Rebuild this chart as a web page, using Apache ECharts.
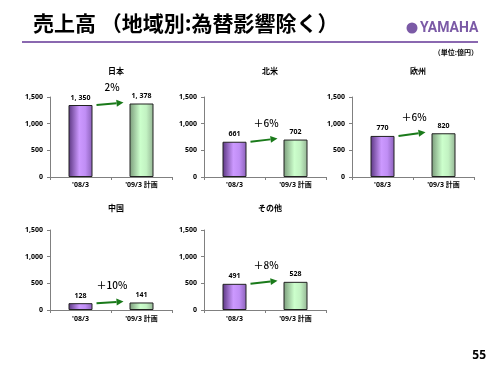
<!DOCTYPE html>
<html><head><meta charset="utf-8">
<script src="https://cdn.jsdelivr.net/npm/echarts@6/dist/echarts.min.js"></script>
<style>html,body{margin:0;padding:0;background:#fff}#c{width:500px;height:375px}</style>
</head><body><div id="c"></div>
<script>
const categories = ["'08/3", "'09/3 計画"];
const regions = ["日本", "北米", "欧州", "中国", "その他"];
const prevValues = [1350, 661, 770, 128, 491];
const planValues = [1378, 702, 820, 141, 528];
const growthLabels = ["2%", "＋6%", "＋6%", "＋10%", "＋8%"];
const valueLabels = [["1, 350", "1, 378"], ["661", "702"], ["770", "820"], ["128", "141"], ["491", "528"]];
const yTicks = [0, 500, 1000, 1500];

const FONT = '"Noto Sans CJK JP", "Noto Sans", sans-serif';
const FONT_LAT = '"Noto Sans", "Noto Sans CJK JP", sans-serif';
const gridPos = [
  {left: 50, top: 97}, {left: 204, top: 97}, {left: 352, top: 97},
  {left: 50, top: 230}, {left: 204, top: 230}
];
const GW = 122, GH = 80;

const purpleGrad = new echarts.graphic.LinearGradient(0, 0, 1, 0, [
  {offset: 0, color: '#5a3680'}, {offset: 0.45, color: '#cc99ff'}, {offset: 0.7, color: '#c08ef5'}, {offset: 1, color: '#8a60b8'}
]);
const greenGrad = new echarts.graphic.LinearGradient(0, 0, 1, 0, [
  {offset: 0, color: '#7a9a7a'}, {offset: 0.45, color: '#ccffcc'}, {offset: 0.7, color: '#c2f2c2'}, {offset: 1, color: '#94b494'}
]);

const chart = echarts.init(document.getElementById('c'), null, {renderer: 'canvas'});

const grids = [], xAxes = [], yAxes = [], series = [], titles = [];
regions.forEach((r, i) => {
  const g = gridPos[i];
  grids.push({left: g.left, top: g.top, width: GW, height: GH});
  titles.push({
    text: r, left: g.left + GW / 2, top: g.top - (i < 3 ? 35 : 31), textAlign: 'center',
    textStyle: {fontFamily: FONT, fontSize: 8, fontWeight: 'bold', color: '#000'}
  });
  xAxes.push({
    type: 'category', gridIndex: i, data: categories,
    axisLine: {lineStyle: {color: '#808080', width: 1}},
    axisTick: {show: true, length: 3, lineStyle: {color: '#808080'}},
    axisLabel: {fontFamily: FONT_LAT, fontSize: 7, fontWeight: 'bold', color: '#000', margin: 5}
  });
  yAxes.push({
    type: 'value', gridIndex: i, min: 0, max: 1500, interval: 500,
    axisLine: {show: true, lineStyle: {color: '#808080', width: 1}},
    axisTick: {show: true, length: 3, lineStyle: {color: '#808080'}},
    splitLine: {show: false},
    axisLabel: {fontFamily: FONT_LAT, fontSize: 7, fontWeight: 'bold', color: '#000', margin: 7,
      formatter: v => v.toLocaleString('en-US')}
  });
  series.push({
    type: 'bar', xAxisIndex: i, yAxisIndex: i, barWidth: 24,
    data: [
      {value: prevValues[i], itemStyle: {color: purpleGrad}},
      {value: planValues[i], itemStyle: {color: greenGrad}}
    ],
    itemStyle: {borderColor: '#222', borderWidth: 1},
    label: {show: true, position: 'top', distance: 4, fontFamily: FONT_LAT, fontSize: 7, fontWeight: 'bold', color: '#000',
      formatter: p => valueLabels[i][p.dataIndex]},
    silent: true, animation: false
  });
});

const baseGraphics = [
  {type: 'text', left: 33, top: 13, style: {text: '売上高 （地域別:為替影響除く）', fontFamily: FONT, fontSize: 21, fontWeight: 'bold', fill: '#000'}},
  {type: 'line', shape: {x1: 22, y1: 42, x2: 478, y2: 42}, style: {stroke: '#8a68b0', lineWidth: 2}},
  {type: 'circle', shape: {cx: 412, cy: 28, r: 5.5}, style: {fill: '#7b5aa6'}},
  {type: 'text', left: 420, top: 21, style: {text: 'YAMAHA', fontFamily: '"Liberation Sans Narrow", "Roboto", sans-serif', fontSize: 14, fontWeight: 'bold', fill: '#7b5aa6'}},
  {type: 'text', right: 22, top: 49, style: {text: '（単位:億円）', fontFamily: FONT, fontSize: 7, fontWeight: 'bold', fill: '#000'}},
  {type: 'text', right: 14, top: 350, style: {text: '55', fontFamily: FONT_LAT, fontSize: 12, fontWeight: 'bold', fill: '#000'}}
];

chart.setOption({
  animation: false,
  title: titles, grid: grids, xAxis: xAxes, yAxis: yAxes, series: series,
  graphic: baseGraphics
});

// arrows and growth labels positioned from the axes' scales
const extra = [];
regions.forEach((r, i) => {
  const p0 = chart.convertToPixel({xAxisIndex: i, yAxisIndex: i}, [0, prevValues[i]]);
  const p1 = chart.convertToPixel({xAxisIndex: i, yAxisIndex: i}, [1, planValues[i]]);
  const x1 = p0[0] + 16, y1 = p0[1];
  const x2 = p1[0] - 18, y2 = p1[1] - 1;
  const ang = Math.atan2(y2 - y1, x2 - x1);
  const hl = 7, hw = 3.5;
  const bx = x2 - hl * Math.cos(ang), by = y2 - hl * Math.sin(ang);
  extra.push({type: 'line', shape: {x1: x1, y1: y1, x2: bx, y2: by}, style: {stroke: '#1a7a1a', lineWidth: 2}});
  extra.push({type: 'polygon', shape: {points: [
    [x2, y2],
    [bx + hw * Math.sin(ang), by - hw * Math.cos(ang)],
    [bx - hw * Math.sin(ang), by + hw * Math.cos(ang)]
  ]}, style: {fill: '#1a7a1a'}});
  extra.push({type: 'text', x: (x1 + x2) / 2 + 2, y: (y1 + y2) / 2 - 17,
    style: {text: growthLabels[i], fontFamily: FONT, fontSize: 10, fontWeight: 500, fill: '#000', align: 'center', verticalAlign: 'middle'}});
});
chart.setOption({graphic: baseGraphics.concat(extra)});
</script></body></html>
